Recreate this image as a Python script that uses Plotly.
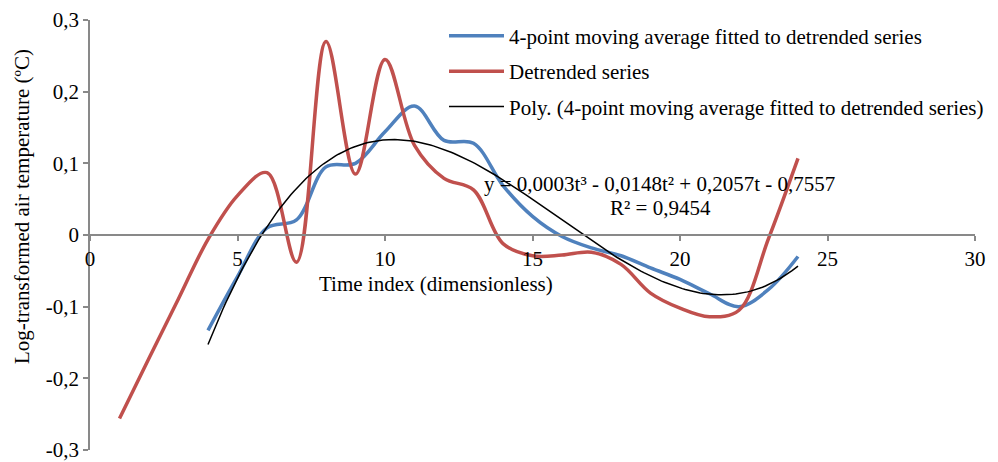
import numpy as np
import plotly.graph_objects as go

# ---- data ----
t_detrended = list(range(1, 25))
detrended = [-0.256, -0.172, -0.089, -0.006, 0.055, 0.087, -0.038, 0.270, 0.085, 0.245,
             0.125, 0.079, 0.063, -0.012, -0.029, -0.028, -0.024, -0.041, -0.081, -0.102,
             -0.114, -0.105, -0.005, 0.107]

t_ma = list(range(4, 25))
ma4 = [-0.133, -0.058, 0.010, 0.021, 0.095, 0.100, 0.144, 0.180, 0.132, 0.128,
       0.069, 0.026, -0.002, -0.018, -0.029, -0.046, -0.062, -0.082, -0.100, -0.076, -0.030]

x_tickvals = [0, 5, 10, 15, 20, 25, 30]
x_ticktext = ["0", "5", "10", "15", "20", "25", "30"]
y_tickvals = [-0.3, -0.2, -0.1, 0, 0.1, 0.2, 0.3]
y_ticktext = ["-0,3", "-0,2", "-0,1", "0", "0,1", "0,2", "0,3"]

names = ["4-point moving average fitted to detrended series",
         "Detrended series",
         "Poly. (4-point moving average fitted to detrended series)"]
equation_text = "y = 0,0003t³ - 0,0148t² + 0,2057t - 0,7557"
r2_text = "R² = 0,9454"
x_title = "Time index (dimensionless)"
y_title = "Log-transformed air temperature (ºC)"

# cubic trendline fitted to the moving-average series
coef = np.polyfit(t_ma, ma4, 3)
t_fit = np.linspace(min(t_ma), max(t_ma), 200)
y_fit = np.polyval(coef, t_fit)

FONT = "Liberation Serif, Times New Roman, serif"
FS = 21
AXC = "#898989"

TOP, BOT = 20, 450          # pixel rows of the plot area
L, R = 90, 975
H, W = BOT - TOP, R - L


def px(xp, yp):
    return (xp - L) / W, (BOT - yp) / H


fig = go.Figure()
fig.add_trace(go.Scatter(x=t_ma, y=ma4, mode="lines", name=names[0], legendgroup="a",
                         line=dict(color="#4F81BD", width=3.5, shape="spline", smoothing=1.0)))
fig.add_trace(go.Scatter(x=t_detrended, y=detrended, mode="lines", name=names[1], legendgroup="b",
                         line=dict(color="#C0504D", width=3.5, shape="spline", smoothing=1.0)))
fig.add_trace(go.Scatter(x=t_fit, y=y_fit, mode="lines", name=names[2], legendgroup="c",
                         line=dict(color="black", width=1.5)))

ax_title = px(436, 284)
ay_title = px(22, 207)
eq_pos = px(659, 184)
r2_pos = px(660, 208)

fig.update_layout(
    width=998, height=462,
    margin=dict(l=L, r=998 - R, t=TOP, b=462 - BOT, autoexpand=False),
    paper_bgcolor="white", plot_bgcolor="white",
    font=dict(family=FONT, size=FS, color="black"),
    showlegend=True,
    legend=dict(x=0.40, y=1.01, xanchor="left", yanchor="top",
                bgcolor="rgba(0,0,0,0)", font=dict(size=FS),
                tracegroupgap=5, traceorder="grouped", itemwidth=55),
    xaxis=dict(range=[0, 30], tickvals=x_tickvals, ticktext=x_ticktext,
               showgrid=False, zeroline=False, showline=True, linecolor=AXC, linewidth=1.5,
               ticks="outside", ticklen=5, tickcolor=AXC, tickwidth=1.5, automargin=False,
               anchor="free", position=0.5, tickfont=dict(size=FS)),
    yaxis=dict(range=[-0.3, 0.3], tickvals=y_tickvals, ticktext=y_ticktext,
               showgrid=False, zeroline=False, showline=True, linecolor=AXC, linewidth=1.5,
               ticks="outside", ticklen=5, tickcolor=AXC, tickwidth=1.5, automargin=False,
               ticklabeloverflow="allow", tickfont=dict(size=FS)),
    annotations=[
        dict(text=x_title, xref="paper", yref="paper", x=ax_title[0], y=ax_title[1],
             showarrow=False, xanchor="center", yanchor="middle", font=dict(size=FS)),
        dict(text=y_title, xref="paper", yref="paper", x=ay_title[0], y=ay_title[1],
             showarrow=False, xanchor="center", yanchor="middle", textangle=-90, font=dict(size=FS)),
        dict(text=equation_text, xref="paper", yref="paper", x=eq_pos[0], y=eq_pos[1],
             showarrow=False, xanchor="center", yanchor="middle", font=dict(size=FS)),
        dict(text=r2_text, xref="paper", yref="paper", x=r2_pos[0], y=r2_pos[1],
             showarrow=False, xanchor="center", yanchor="middle", font=dict(size=FS)),
    ],
)

fig.write_html("out.html")
